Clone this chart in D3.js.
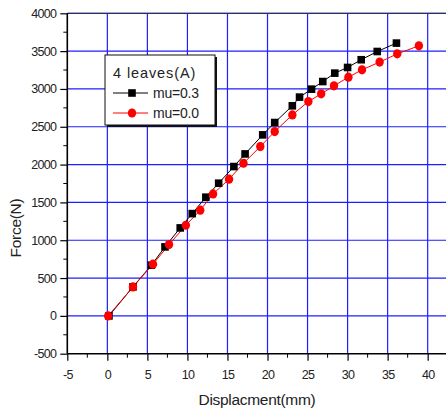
<!DOCTYPE html>
<html>
<head>
<meta charset="utf-8">
<script src="https://cdn.jsdelivr.net/npm/d3@7"></script>
<style>
  body { margin: 0; background: #fff; }
  text { font-family: "Liberation Sans", Arial, sans-serif; }
</style>
</head>
<body>
<svg id="chart" width="446" height="414"></svg>
<script>
// data
var dispA = [0.2, 3.2, 5.5, 7.2, 9.1, 10.6, 12.3, 13.9, 15.8, 17.2, 19.4, 20.9, 23.1, 24.0, 25.5, 26.9, 28.4, 30.0, 31.7, 33.7, 36.1]
var forceA = [0, 383, 670, 912, 1163, 1352, 1569, 1754, 1974, 2141, 2393, 2556, 2777, 2892, 2997, 3098, 3209, 3284, 3386, 3495, 3606]
var dispB = [0.1, 3.2, 5.7, 7.7, 9.8, 11.6, 13.2, 15.2, 17.0, 19.1, 20.9, 23.1, 25.1, 26.7, 28.3, 30.1, 31.8, 34.0, 36.2, 38.9]
var forceB = [0, 383, 683, 942, 1198, 1397, 1612, 1807, 2018, 2238, 2437, 2657, 2833, 2935, 3041, 3156, 3253, 3355, 3464, 3570]
var xTicks = [-5, 0, 5, 10, 15, 20, 25, 30, 35, 40]
var yTicks = [-500, 0, 500, 1000, 1500, 2000, 2500, 3000, 3500, 4000]
var legendTitle = "4 leaves(A)"
var seriesNames = ["mu=0.3", "mu=0.0"]

var svg = d3.select("#chart")

// note: "top" is taken by window.top, so use other names
var pLeft = 67.3, pRight = 447.7, pTop = 13.3, pBottom = 353.7

var x = d3.scaleLinear().domain([-5, 42.5]).range([pLeft, pRight])
var y = d3.scaleLinear().domain([-500, 4000]).range([pBottom, pTop])

// grid
var gridColor = "#1e1eff"
svg.append("g").selectAll("line").data(xTicks.slice(1)).join("line")
    .attr("x1", d => x(d)).attr("x2", d => x(d))
    .attr("y1", pTop).attr("y2", pBottom)
    .attr("stroke", gridColor).attr("stroke-width", 1.2)
svg.append("g").selectAll("line").data(yTicks.slice(1)).join("line")
    .attr("x1", pLeft).attr("x2", 446)
    .attr("y1", d => y(d)).attr("y2", d => y(d))
    .attr("stroke", gridColor).attr("stroke-width", 1.2)

// top border
svg.append("line").attr("x1", pLeft).attr("x2", 446).attr("y1", pTop).attr("y2", pTop)
    .attr("stroke", "#333").attr("stroke-width", 1)

// axes
var xMinor = d3.range(-2.5, 42.5, 5)
var yMinor = d3.range(-250, 4000, 500)
var plainFmt = d => String(d)   // keep the ascii hyphen for negatives

var xAxis = svg.append("g").attr("transform", "translate(0," + pBottom + ")")
    .call(d3.axisBottom(x).tickValues(xTicks).tickSize(7).tickPadding(9).tickFormat(plainFmt))
xAxis.append("g").selectAll("line").data(xMinor).join("line")
    .attr("x1", d => x(d)).attr("x2", d => x(d)).attr("y1", 0).attr("y2", 4)
    .attr("stroke", "#000")
var yAxis = svg.append("g").attr("transform", "translate(" + pLeft + ",0)")
    .call(d3.axisLeft(y).tickValues(yTicks).tickSize(7).tickPadding(4).tickFormat(plainFmt))
yAxis.append("g").selectAll("line").data(yMinor).join("line")
    .attr("y1", d => y(d)).attr("y2", d => y(d)).attr("x1", 0).attr("x2", -4)
    .attr("stroke", "#000")

svg.selectAll(".domain").attr("stroke-width", 1.6)
xAxis.select(".domain").attr("d", "M" + pLeft + ",0H446")
yAxis.select(".domain").attr("d", "M0," + pTop + "V" + pBottom)
svg.selectAll(".tick line").attr("stroke-width", 1.2)
svg.selectAll(".tick text").attr("font-size", 12.5).attr("fill", "#222")
    .style("letter-spacing", "-0.7px")
    .style("font-family", "'Liberation Sans', Arial, sans-serif")

// titles
svg.append("text").attr("x", 257).attr("y", 405).attr("text-anchor", "middle")
    .attr("font-size", 15.5).attr("fill", "#222").style("letter-spacing", "-0.3px")
    .text("Displacment(mm)")
svg.append("text").attr("transform", "translate(21,228) rotate(-90)").attr("text-anchor", "middle")
    .attr("font-size", 15.5).attr("fill", "#222").style("letter-spacing", "-0.3px")
    .text("Force(N)")

// series
var line = d3.line().x(d => x(d[0])).y(d => y(d[1]))
var ptsA = dispA.map((d, i) => [d, forceA[i]])
var ptsB = dispB.map((d, i) => [d, forceB[i]])

svg.append("path").datum(ptsA).attr("d", line).attr("fill", "none").attr("stroke", "#000").attr("stroke-width", 1)
svg.append("path").datum(ptsB).attr("d", line).attr("fill", "none").attr("stroke", "#ff0000").attr("stroke-width", 1)

svg.append("g").selectAll("rect").data(ptsA).join("rect")
    .attr("x", d => x(d[0]) - 3.8).attr("y", d => y(d[1]) - 3.8)
    .attr("width", 7.6).attr("height", 7.6).attr("fill", "#000")
svg.append("g").selectAll("ellipse").data(ptsB).join("ellipse")
    .attr("cx", d => x(d[0])).attr("cy", d => y(d[1]))
    .attr("rx", 4.2).attr("ry", 4.6).attr("fill", "#ff0000")

// legend
var lg = svg.append("g")
lg.append("rect").attr("x", 107).attr("y", 57).attr("width", 110).attr("height", 70).attr("fill", "#111")
lg.append("rect").attr("x", 105).attr("y", 55).attr("width", 110).attr("height", 70)
    .attr("fill", "#fff").attr("stroke", "#111").attr("stroke-width", 1)
lg.append("text").attr("x", 113).attr("y", 78).attr("font-size", 14.5).attr("fill", "#222")
    .style("letter-spacing", "0.9px").text(legendTitle)
var rowY = [93, 113]
var rowColor = ["#000", "#ff0000"]
seriesNames.forEach(function(name, i) {
    lg.append("line").attr("x1", 113).attr("x2", 148).attr("y1", rowY[i]).attr("y2", rowY[i])
        .attr("stroke", rowColor[i]).attr("stroke-width", 1)
    if (i === 0) {
        lg.append("rect").attr("x", 132 - 3.8).attr("y", rowY[i] - 3.8).attr("width", 7.6).attr("height", 7.6).attr("fill", "#000")
    } else {
        lg.append("ellipse").attr("cx", 132).attr("cy", rowY[i]).attr("rx", 4.2).attr("ry", 4.6).attr("fill", "#ff0000")
    }
    lg.append("text").attr("x", 153).attr("y", rowY[i] + 5).attr("font-size", 14).attr("fill", "#222")
        .style("letter-spacing", "-0.2px").text(name)
})
</script>
</body>
</html>
